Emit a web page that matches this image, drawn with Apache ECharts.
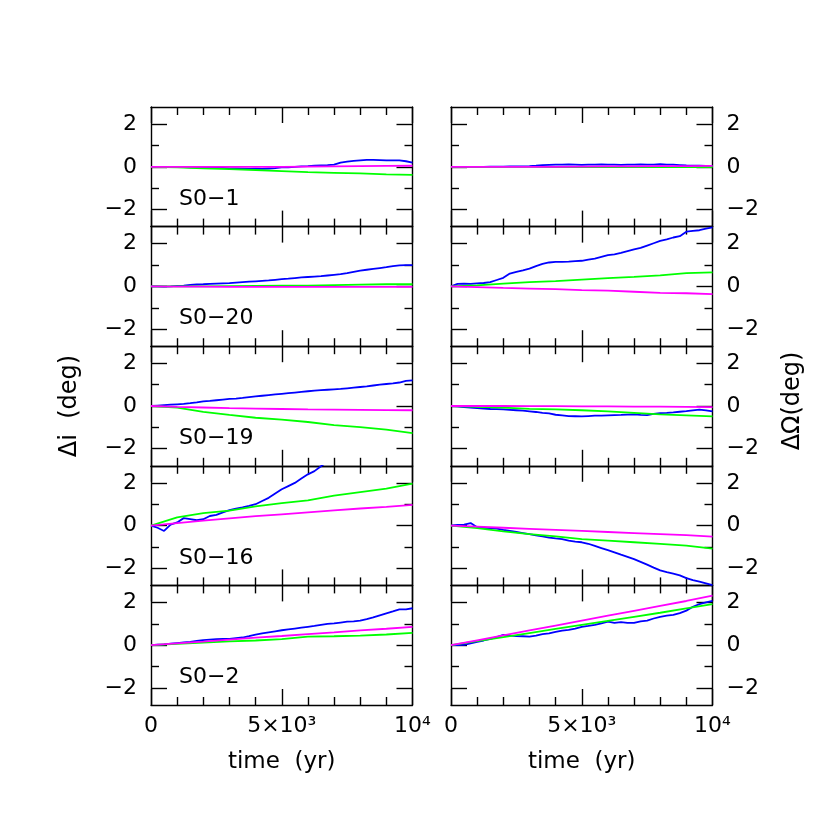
<!DOCTYPE html>
<html>
<head>
<meta charset="utf-8">
<script src="https://cdn.jsdelivr.net/npm/echarts@6/dist/echarts.min.js"></script>
<style>
  html, body { margin: 0; padding: 0; background: #fff; }
  #chart { width: 817px; height: 817px; }
</style>
</head>
<body>
<div id="chart"></div>
<script>
// time samples (yr)
const yearsFine = [0, 250, 500, 750, 1000, 1250, 1500, 1750, 2000, 2250, 2500, 2750, 3000, 3250, 3500, 3750, 4000, 4250, 4500, 4750, 5000,
  5250, 5500, 5750, 6000, 6250, 6500, 6750, 7000, 7250, 7500, 7750, 8000, 8250, 8500, 8750, 9000, 9250, 9500, 9750, 10000]
const yearsCoarse = [0, 1000, 2000, 3000, 4000, 5000, 6000, 7000, 8000, 9000, 10000]

const stars = ['S0−1', 'S0−20', 'S0−19', 'S0−16', 'S0−2']
const xTickValues = [0, 5000, 10000]
const xTickLabels = ['0', '5×10³', '10⁴']
const yMajorValues = [-2, 0, 2]
const yMajorLabels = ['−2', '0', '2']
const yMinorValues = [-1, 1]

// Δi (deg), left column
const s01IncBlue = [0, 0, 0, 0, 0, -0.01, -0.02, -0.02, -0.02, -0.03, -0.04, -0.05, -0.07, -0.08, -0.09, -0.1, -0.09, -0.1, -0.08, -0.06,
  -0.03, -0.02, 0, 0.02, 0.03, 0.05, 0.07, 0.08, 0.1, 0.2, 0.24, 0.28, 0.3, 0.32, 0.32, 0.31, 0.3, 0.3, 0.3, 0.26, 0.2]
const s01IncGreen = [0, -0.03, -0.07, -0.11, -0.15, -0.2, -0.25, -0.28, -0.31, -0.35, -0.38]
const s01IncMag = [0, 0, 0, 0, 0, 0, 0.01, 0.02, 0.03, 0.04, 0.05]

const s20IncBlue = [0, 0, -0.01, 0, 0.02, 0.04, 0.07, 0.09, 0.1, 0.12, 0.13, 0.14, 0.15, 0.18, 0.2, 0.22, 0.24, 0.26, 0.28, 0.31,
  0.34, 0.36, 0.39, 0.42, 0.44, 0.46, 0.48, 0.51, 0.54, 0.57, 0.62, 0.68, 0.74, 0.78, 0.82, 0.86, 0.9, 0.95, 0.98, 1.0, 1.0]
const s20IncGreen = [0, 0, 0, 0.01, 0.02, 0.03, 0.04, 0.06, 0.08, 0.1, 0.1]
const s20IncMag = [0, -0.01, -0.01, -0.02, -0.02, -0.02, -0.02, -0.02, -0.02, -0.02, -0.02]

const s19IncBlue = [0, 0.02, 0.04, 0.06, 0.08, 0.1, 0.13, 0.17, 0.22, 0.24, 0.27, 0.3, 0.33, 0.35, 0.38, 0.42, 0.45, 0.48, 0.51, 0.54,
  0.57, 0.6, 0.63, 0.66, 0.69, 0.72, 0.74, 0.76, 0.78, 0.8, 0.83, 0.86, 0.89, 0.92, 0.96, 1.0, 1.03, 1.06, 1.1, 1.18, 1.2]
const s19IncGreen = [0, -0.08, -0.28, -0.42, -0.55, -0.64, -0.75, -0.9, -0.99, -1.11, -1.27]
const s19IncMag = [0, -0.04, -0.07, -0.1, -0.12, -0.14, -0.16, -0.17, -0.18, -0.19, -0.2]

const s16IncBlue = [0, -0.1, -0.25, 0.05, 0.15, 0.35, 0.3, 0.25, 0.3, 0.45, 0.5, 0.62, 0.72, 0.8, 0.85, 0.92, 1.0, 1.15, 1.3, 1.5,
  1.7, 1.85, 2.0, 2.2, 2.4, 2.55, 2.78, 3.0, null, null, null, null, null, null, null, null, null, null, null, null, null]
const s16IncGreen = [0, 0.39, 0.58, 0.7, 0.9, 1.05, 1.18, 1.4, 1.57, 1.73, 1.96]
const s16IncMag = [0, 0.12, 0.23, 0.34, 0.44, 0.53, 0.62, 0.71, 0.8, 0.88, 0.97]

const s2IncBlue = [0, 0.02, 0.04, 0.07, 0.1, 0.13, 0.16, 0.2, 0.24, 0.26, 0.28, 0.29, 0.3, 0.33, 0.36, 0.42, 0.5, 0.55, 0.6, 0.65,
  0.7, 0.74, 0.78, 0.82, 0.86, 0.9, 0.95, 1.0, 1.02, 1.06, 1.1, 1.12, 1.15, 1.22, 1.3, 1.4, 1.49, 1.58, 1.68, 1.68, 1.73]
const s2IncGreen = [0, 0.06, 0.12, 0.18, 0.22, 0.28, 0.4, 0.42, 0.45, 0.5, 0.58]
const s2IncMag = [0, 0.09, 0.17, 0.26, 0.35, 0.43, 0.52, 0.6, 0.69, 0.77, 0.86]

// ΔΩ (deg), right column
const s01NodeBlue = [0, 0, 0, 0, 0, 0, 0.01, 0.01, 0.01, 0.02, 0.02, 0.02, 0.03, 0.05, 0.08, 0.09, 0.1, 0.1, 0.11, 0.1,
  0.09, 0.1, 0.1, 0.11, 0.1, 0.1, 0.09, 0.1, 0.1, 0.11, 0.1, 0.1, 0.12, 0.1, 0.1, 0.08, 0.06, 0.05, 0.05, 0.04, 0.04]
const s01NodeGreen = [0, 0, 0, 0, -0.01, -0.01, -0.01, -0.01, -0.01, -0.01, -0.01]
const s01NodeMag = [0, 0, 0, 0, 0, 0.01, 0.02, 0.02, 0.03, 0.03, 0.04]

const s20NodeBlue = [0, 0.12, 0.13, 0.12, 0.14, 0.16, 0.2, 0.3, 0.4, 0.6, 0.68, 0.75, 0.83, 0.95, 1.05, 1.12, 1.15, 1.15, 1.16, 1.18,
  1.2, 1.25, 1.3, 1.38, 1.46, 1.5, 1.57, 1.65, 1.73, 1.8, 1.91, 2.02, 2.13, 2.2, 2.29, 2.35, 2.56, 2.6, 2.63, 2.7, 2.76]
const s20NodeGreen = [0, 0.05, 0.13, 0.2, 0.25, 0.32, 0.39, 0.45, 0.52, 0.62, 0.66]
const s20NodeMag = [0, -0.03, -0.07, -0.1, -0.13, -0.17, -0.2, -0.25, -0.3, -0.32, -0.36]

const s19NodeBlue = [0, -0.02, -0.05, -0.08, -0.1, -0.12, -0.14, -0.15, -0.16, -0.18, -0.2, -0.22, -0.25, -0.28, -0.32, -0.35, -0.41, -0.44, -0.47, -0.48,
  -0.49, -0.47, -0.45, -0.45, -0.44, -0.43, -0.42, -0.4, -0.39, -0.42, -0.43, -0.37, -0.33, -0.32, -0.3, -0.27, -0.24, -0.2, -0.17, -0.2, -0.25]
const s19NodeGreen = [0, -0.04, -0.08, -0.13, -0.16, -0.2, -0.25, -0.32, -0.39, -0.44, -0.49]
const s19NodeMag = [0, 0, 0, -0.01, -0.01, -0.02, -0.02, -0.03, -0.03, -0.04, -0.05]

const s16NodeBlue = [0, 0.03, 0.05, 0.12, -0.08, -0.1, -0.12, -0.14, -0.2, -0.25, -0.3, -0.35, -0.4, -0.46, -0.5, -0.56, -0.6, -0.63, -0.7, -0.75,
  -0.78, -0.85, -0.95, -1.05, -1.15, -1.25, -1.36, -1.46, -1.57, -1.7, -1.83, -1.97, -2.1, -2.18, -2.25, -2.33, -2.46, -2.55, -2.62, -2.7, -2.79]
const s16NodeGreen = [0, -0.12, -0.27, -0.4, -0.5, -0.63, -0.7, -0.78, -0.86, -0.94, -1.08]
const s16NodeMag = [0, -0.05, -0.1, -0.15, -0.2, -0.25, -0.3, -0.35, -0.4, -0.45, -0.52]

const s2NodeBlue = [0, 0, 0.02, 0.08, 0.15, 0.22, 0.3, 0.38, 0.48, 0.45, 0.43, 0.42, 0.4, 0.45, 0.52, 0.55, 0.62, 0.68, 0.72, 0.78,
  0.86, 0.9, 0.95, 1.02, 1.1, 1.05, 1.08, 1.05, 1.05, 1.12, 1.15, 1.25, 1.33, 1.38, 1.42, 1.5, 1.62, 1.8, 1.92, 2.0, 2.07]
const s2NodeGreen = [0, 0.19, 0.38, 0.57, 0.76, 0.95, 1.14, 1.33, 1.52, 1.72, 1.92]
const s2NodeMag = [0, 0.23, 0.46, 0.69, 0.92, 1.15, 1.38, 1.61, 1.84, 2.07, 2.32]

const panels = [
  { row: 0, col: 0, blue: s01IncBlue, green: s01IncGreen, mag: s01IncMag },
  { row: 1, col: 0, blue: s20IncBlue, green: s20IncGreen, mag: s20IncMag },
  { row: 2, col: 0, blue: s19IncBlue, green: s19IncGreen, mag: s19IncMag },
  { row: 3, col: 0, blue: s16IncBlue, green: s16IncGreen, mag: s16IncMag },
  { row: 4, col: 0, blue: s2IncBlue, green: s2IncGreen, mag: s2IncMag },
  { row: 0, col: 1, blue: s01NodeBlue, green: s01NodeGreen, mag: s01NodeMag },
  { row: 1, col: 1, blue: s20NodeBlue, green: s20NodeGreen, mag: s20NodeMag },
  { row: 2, col: 1, blue: s19NodeBlue, green: s19NodeGreen, mag: s19NodeMag },
  { row: 3, col: 1, blue: s16NodeBlue, green: s16NodeGreen, mag: s16NodeMag },
  { row: 4, col: 1, blue: s2NodeBlue, green: s2NodeGreen, mag: s2NodeMag }
]

const FONT = 'DejaVu Sans'
const W = 261.5
const H = 119.6
const TOP = 107
const colLeft = [151, 451]
const YMIN = -2.8
const YMAX = 2.8

const line = { color: '#000', width: 1.4 }
const option = {
  animation: false,
  backgroundColor: '#fff',
  grid: [],
  xAxis: [],
  yAxis: [],
  series: [],
  graphic: []
}

panels.forEach((p, k) => {
  option.grid.push({ left: colLeft[p.col], top: TOP + p.row * H, width: W, height: H })
  const isBottom = p.row === 4
  const xIndex = option.xAxis.length
  ;['bottom', 'top'].forEach(pos => {
    const labelled = pos === 'bottom' && isBottom
    option.xAxis.push({
      type: 'value', gridIndex: k, position: pos, min: 0, max: 10000, interval: 5000,
      axisLine: { show: true, onZero: false, lineStyle: line },
      axisTick: { show: true, inside: true, length: 16, lineStyle: line },
      minorTick: { show: true, splitNumber: 5, length: 8, lineStyle: line },
      splitLine: { show: false },
      axisLabel: {
        show: labelled, margin: 10, color: '#000', fontFamily: FONT, fontSize: 22,
        formatter: v => xTickLabels[xTickValues.indexOf(v)]
      },
      name: labelled ? 'time  (yr)' : '',
      nameLocation: 'middle', nameGap: 46,
      nameTextStyle: { color: '#000', fontFamily: FONT, fontSize: 23 }
    })
  })
  const yIndex = option.yAxis.length
  ;['left', 'right'].forEach(pos => {
    const labelled = (pos === 'left' && p.col === 0) || (pos === 'right' && p.col === 1)
    option.yAxis.push({
      type: 'value', gridIndex: k, position: pos, min: YMIN, max: YMAX,
      axisLine: { show: true, onZero: false, lineStyle: line },
      axisTick: { show: true, inside: true, length: 16, lineStyle: line, customValues: yMajorValues },
      splitLine: { show: false },
      axisLabel: {
        show: labelled, customValues: yMajorValues, margin: 14, color: '#000', fontFamily: FONT, fontSize: 22,
        formatter: v => yMajorLabels[yMajorValues.indexOf(v)]
      }
    })
    option.yAxis.push({
      type: 'value', gridIndex: k, position: pos, min: YMIN, max: YMAX,
      axisLine: { show: false, onZero: false },
      axisTick: { show: true, inside: true, length: 8, lineStyle: line, customValues: yMinorValues },
      splitLine: { show: false },
      axisLabel: { show: false }
    })
  })
  const add = (years, vals, color) => option.series.push({
    type: 'line', xAxisIndex: xIndex, yAxisIndex: yIndex,
    data: years.map((t, i) => [t, vals[i]]),
    showSymbol: false, symbol: 'none', clip: true,
    lineStyle: { color, width: 1.8 }
  })
  add(yearsFine, p.blue, '#0000ff')
  add(yearsCoarse, p.green, '#00ff00')
  add(yearsCoarse, p.mag, '#ff00ff')

  if (p.col === 0) {
    option.graphic.push({
      type: 'text', x: 179, y: TOP + p.row * H + 92,
      style: { text: stars[p.row], fill: '#000', font: '22px "' + FONT + '"', align: 'left', verticalAlign: 'middle' }
    })
  }
})

option.graphic.push({
  type: 'text', x: 70, y: 406, rotation: Math.PI / 2,
  style: { text: 'Δi  (deg)', fill: '#000', font: '24px "' + FONT + '"', align: 'center', verticalAlign: 'middle' }
})
option.graphic.push({
  type: 'text', x: 793, y: 401, rotation: Math.PI / 2,
  style: { text: 'ΔΩ(deg)', fill: '#000', font: '24px "' + FONT + '"', align: 'center', verticalAlign: 'middle' }
})

const chart = echarts.init(document.getElementById('chart'))
chart.setOption(option)
</script>
</body>
</html>
